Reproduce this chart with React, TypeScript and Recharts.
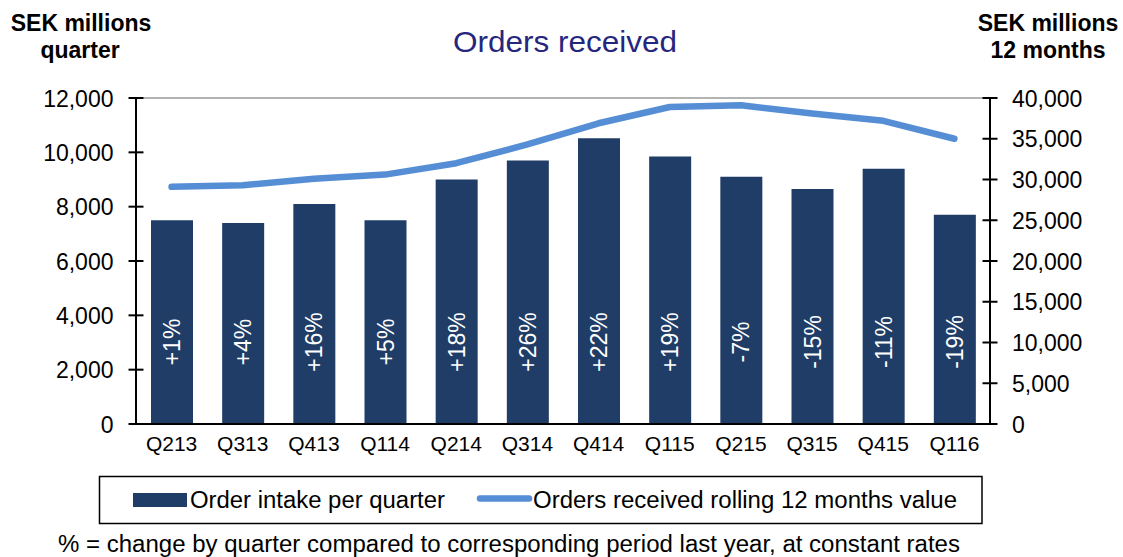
import React from 'react';
import { ComposedChart, Bar, Line, XAxis, YAxis, ReferenceLine, LabelList } from 'recharts';

const quarters = ['Q213', 'Q313', 'Q413', 'Q114', 'Q214', 'Q314', 'Q414', 'Q115', 'Q215', 'Q315', 'Q415', 'Q116'];
const orderIntake = [7500, 7400, 8100, 7500, 9000, 9700, 10520, 9850, 9100, 8650, 9400, 7700];
const rolling12 = [29100, 29300, 30100, 30600, 32000, 34300, 36900, 38900, 39100, 38100, 37200, 35000];
const changeLabels = ['+1%', '+4%', '+16%', '+5%', '+18%', '+26%', '+22%', '+19%', '-7%', '-15%', '-11%', '-19%'];
const leftTicks = [0, 2000, 4000, 6000, 8000, 10000, 12000];
const rightTicks = [0, 5000, 10000, 15000, 20000, 25000, 30000, 35000, 40000];

const data = quarters.map((q, i) => ({
  q,
  orders: orderIntake[i],
  rolling: rolling12[i],
  change: changeLabels[i],
}));

const BAR_COLOR = '#1F3D66';
const LINE_COLOR = '#558ED5';
const FONT = '"Liberation Sans", Arial, sans-serif';

const fmt = (v: number) => v.toLocaleString('en-US');

const LeftTick = (p: any) => {
  const { x, y, payload } = p;
  return (
    <g>
      <line x1={x - 7.5} x2={x + 7.5} y1={y} y2={y} stroke="#000" strokeWidth={2} />
      <text x={x - 22.5} y={y + 8.5} textAnchor="end" fontSize={23} fill="#000" fontFamily={FONT}>
        {fmt(payload.value)}
      </text>
    </g>
  );
};

const RightTick = (p: any) => {
  const { x, y, payload } = p;
  return (
    <g>
      <line x1={x - 7.5} x2={x + 7.5} y1={y} y2={y} stroke="#000" strokeWidth={2} />
      <text x={x + 22} y={y + 8.5} textAnchor="start" fontSize={23} fill="#000" fontFamily={FONT}>
        {fmt(payload.value)}
      </text>
    </g>
  );
};

const XTick = (p: any) => {
  const { x, y, payload } = p;
  return (
    <text x={x} y={y + 27} textAnchor="middle" fontSize={21} fill="#000" fontFamily={FONT}>
      {payload.value}
    </text>
  );
};

const BarLabel = (p: any) => {
  const { x, y, width, height, value } = p;
  const cx = x + width / 2;
  const cy = y + height - 82;
  return (
    <text
      x={cx}
      y={cy}
      transform={`rotate(-90 ${cx} ${cy})`}
      textAnchor="middle"
      dominantBaseline="central"
      fontSize={23}
      fill="#fff"
      fontFamily={FONT}
    >
      {value}
    </text>
  );
};

export default function App() {
  return (
    <div style={{ position: 'relative', width: 1123, height: 557, fontFamily: FONT, background: '#fff' }}>
      <style>{`body{margin:0;background:#fff}`}</style>
      <ComposedChart width={1123} height={557} data={data} margin={{ top: 98, right: 0, bottom: 0, left: 0 }}>
        <XAxis
          dataKey="q"
          height={133}
          interval={0}
          tickLine={false}
          tickSize={0}
          tickMargin={0}
          axisLine={{ stroke: '#000', strokeWidth: 2 }}
          tick={(p: any) => <XTick {...p} />}
        />
        <YAxis
          yAxisId="left"
          width={136}
          domain={[0, 12000]}
          ticks={leftTicks}
          interval={0}
          tickLine={false}
          tickSize={0}
          tickMargin={0}
          axisLine={{ stroke: '#000', strokeWidth: 2 }}
          tick={(p: any) => <LeftTick {...p} />}
        />
        <YAxis
          yAxisId="right"
          orientation="right"
          width={133}
          domain={[0, 40000]}
          ticks={rightTicks}
          interval={0}
          tickLine={false}
          tickSize={0}
          tickMargin={0}
          axisLine={{ stroke: '#000', strokeWidth: 2 }}
          tick={(p: any) => <RightTick {...p} />}
        />
        <ReferenceLine yAxisId="left" y={12000} stroke="#9a9a9a" strokeWidth={1.5} />
        <Bar yAxisId="left" dataKey="orders" fill={BAR_COLOR} barSize={42} isAnimationActive={false}>
          <LabelList dataKey="change" content={(p: any) => <BarLabel {...p} />} />
        </Bar>
        <Line
          yAxisId="right"
          dataKey="rolling"
          type="linear"
          stroke={LINE_COLOR}
          strokeWidth={6.5}
          strokeLinecap="round"
          strokeLinejoin="round"
          dot={false}
          activeDot={false}
          isAnimationActive={false}
        />
      </ComposedChart>
      <svg
        width={1123}
        height={557}
        style={{ position: 'absolute', left: 0, top: 0, pointerEvents: 'none' }}
        fontFamily={FONT}
      >
        <text x={81} y={31} textAnchor="middle" fontSize={23} fontWeight="bold" fill="#000">SEK millions</text>
        <text x={80} y={58} textAnchor="middle" fontSize={23} fontWeight="bold" fill="#000">quarter</text>
        <text x={1048} y={31} textAnchor="middle" fontSize={23} fontWeight="bold" fill="#000">SEK millions</text>
        <text x={1048} y={58} textAnchor="middle" fontSize={23} fontWeight="bold" fill="#000">12 months</text>
        <text x={565} y={51.5} textAnchor="middle" fontSize={30} fill="#262680" textLength={224} lengthAdjust="spacingAndGlyphs">
          Orders received
        </text>
        <rect x={99.5} y={476.5} width={882.5} height={47} fill="none" stroke="#000" strokeWidth={1.5} />
        <rect x={133} y={493} width={54} height={14} fill={BAR_COLOR} />
        <text x={190} y={508} fontSize={23} fill="#000" textLength={255} lengthAdjust="spacingAndGlyphs">
          Order intake per quarter
        </text>
        <line x1={480} x2={529} y1={498.5} y2={498.5} stroke={LINE_COLOR} strokeWidth={6.5} strokeLinecap="round" />
        <text x={533} y={508} fontSize={23} fill="#000" textLength={424} lengthAdjust="spacingAndGlyphs">
          Orders received rolling 12 months value
        </text>
        <text x={58} y={552} fontSize={23} fill="#000" textLength={902} lengthAdjust="spacingAndGlyphs">
          % = change by quarter compared to corresponding period last year, at constant rates
        </text>
      </svg>
    </div>
  );
}
